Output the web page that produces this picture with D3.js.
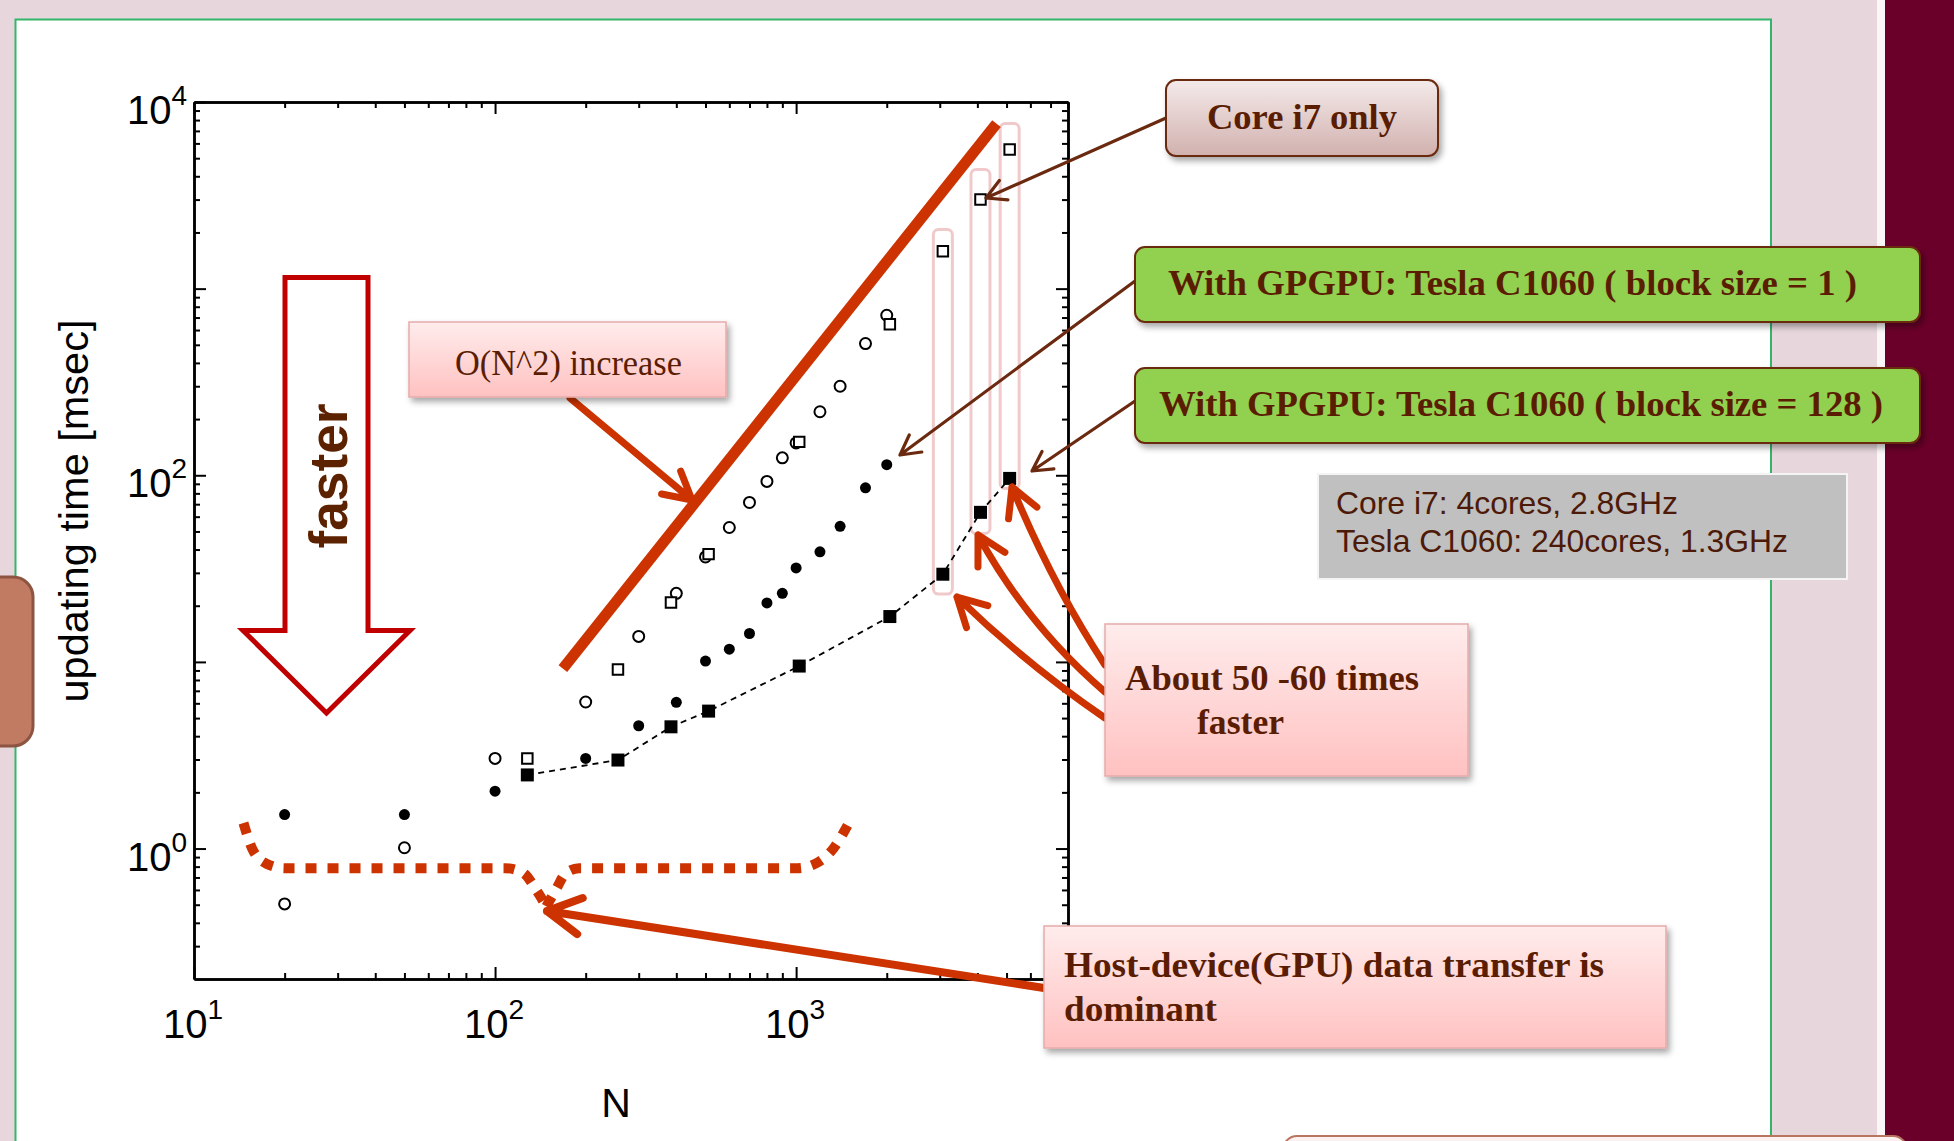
<!DOCTYPE html>
<html lang="en">
<head>
<meta charset="UTF-8">
<title>updating time vs N : Core i7 vs Tesla C1060</title>
<script src="https://d3js.org/d3.v7.min.js"></script>
<style>
  body { margin: 0; background: #e7d7dd; overflow: hidden; }
  svg { display: block; }
  .axis path, .axis line { stroke: #000; }
  .axis path { stroke-width: 2.5; }
  .axis line { stroke-width: 2; }
  .num { font-family: "Liberation Sans", Arial, sans-serif; fill: #000; }
  .note { font-family: "Liberation Serif", "Times New Roman", serif; fill: #5a1d02; }
</style>
</head>
<body>
<svg width="1954" height="1141"></svg>

<script>
    // ---- data ----
    const nSweep = [20, 50, 100, 200, 300, 400, 500, 600, 700, 800, 900, 1000, 1200, 1400, 1700, 2000];
    const tOpenCircle = [0.505, 1.01, 3.04, 6.1, 13.7, 23.3, 36.5, 52.5, 71.5, 92.7, 124, 149, 219, 300, 508, 720];
    const tBlock1 = [1.52, 1.52, 2.03, 3.04, 4.55, 6.07, 10.1, 11.7, 14.2, 20.7, 23.3, 31.9, 38.9, 53.3, 85.7, 114];

    const nPow = [128, 256, 384, 512, 1024, 2048, 3072, 4096, 5120];
    const tCorei7 = [3.04, 9.1, 20.8, 37.8, 151, 644, 1586, 3000, 5560];
    const tBlock128 = [2.48, 2.98, 4.49, 5.45, 9.5, 17.5, 29.5, 63.3, 96.2];

    const xMajor = [10, 100, 1000];
    const xLabels = ["1", "2", "3"];
    const yMajor = [1, 10, 100, 1000, 10000];
    const yLabelled = [1, 100, 10000];
    const yLabels = ["0", "2", "4"];

    // O(N^2) guide line and the columns picked out in pink (data units)
    const n2Line = [[168, 9.2], [4630, 7660]];
    const columns = [[3072, 2073, 23.1], [4096, 4347, 48.8], [5120, 7660, 84.9]];
    // dashed brace below the small-N points (data units)
    const braceLeft = [[14.6, 1.37], [15.6, 1.0], [17.4, 0.83], [20, 0.785], [108, 0.785], [124, 0.74], [137, 0.6], [148, 0.49]];
    const braceRight = [[148, 0.49], [159, 0.6], [172, 0.74], [190, 0.785], [1010, 0.785], [1160, 0.83], [1330, 1.0], [1496, 1.37]];

    const svg = d3.select("svg");

    const x = d3.scaleLog().domain([10, 8000]).range([194, 1068]);
    const y = d3.scaleLog().domain([0.2, 10000]).range([979, 102]);

    // ---- defs ----
    const defs = svg.append("defs");
    const sh = defs.append("filter").attr("id", "shadow").attr("x", "-10%").attr("y", "-10%").attr("width", "130%").attr("height", "140%");
    sh.append("feDropShadow").attr("dx", 3).attr("dy", 4).attr("stdDeviation", 3)
        .attr("flood-color", "#000").attr("flood-opacity", 0.35);
    function grad(id, c1, c2) {
        const g = defs.append("linearGradient").attr("id", id).attr("x1", 0).attr("y1", 0).attr("x2", 0).attr("y2", 1);
        g.append("stop").attr("offset", "0%").attr("stop-color", c1);
        g.append("stop").attr("offset", "100%").attr("stop-color", c2);
    }
    grad("pinkGrad", "#ffecec", "#ffc1c1");
    grad("coreGrad", "#f4eaea", "#d1b1ae");

    // ---- slide background ----
    svg.append("rect").attr("x", 0).attr("y", 0).attr("width", 1954).attr("height", 1141).attr("fill", "#e7d7dd");
    svg.append("rect").attr("x", 15.5).attr("y", 19.5).attr("width", 1755.5).attr("height", 1200)
        .attr("fill", "#fff").attr("stroke", "#33b56b").attr("stroke-width", 2);
    svg.append("rect").attr("x", 1877).attr("y", 0).attr("width", 8).attr("height", 1141).attr("fill", "#fbf7f8");
    svg.append("rect").attr("x", 1885).attr("y", 0).attr("width", 69).attr("height", 1141).attr("fill", "#6a0029");
    svg.append("rect").attr("x", -20).attr("y", 577).attr("width", 53).attr("height", 169).attr("rx", 20)
        .attr("fill", "#c27b63").attr("stroke", "#8d5442").attr("stroke-width", 3);
    svg.append("rect").attr("x", 1283).attr("y", 1136).attr("width", 624).attr("height", 40).attr("rx", 14)
        .attr("fill", "#fdf0f0").attr("stroke", "#b87560").attr("stroke-width", 2);

    // ---- axes (ticks inside on all four sides) ----
    const xMinor = x.ticks().filter(d => !xMajor.includes(d));
    const yMinor = y.ticks().filter(d => !yMajor.includes(d) && d > 0.2);

    function axis(fn, scale, values, size, tr) {
        svg.append("g").attr("class", "axis").attr("transform", tr)
            .call(fn(scale).tickValues(values).tickSizeInner(size).tickSizeOuter(0).tickFormat(() => ""));
    }
    [[d3.axisBottom, x, "translate(0,979)"], [d3.axisTop, x, "translate(0,102)"]].forEach(([fn, s, tr]) => {
        axis(fn, s, xMajor, -12, tr);
        axis(fn, s, xMinor, -6, tr);
    });
    [[d3.axisLeft, y, "translate(194,0)"], [d3.axisRight, y, "translate(1068,0)"]].forEach(([fn, s, tr]) => {
        axis(fn, s, yMajor, -12, tr);
        axis(fn, s, yMinor, -6, tr);
    });

    // tick labels 10^n
    const xl = svg.append("g").selectAll("text").data(xMajor).join("text")
        .attr("class", "num").attr("x", d => x(d) - 31).attr("y", 1038).attr("font-size", 40);
    xl.append("tspan").text("10");
    xl.append("tspan").attr("dy", -19).attr("font-size", 28).text((d, i) => xLabels[i]);

    const yl = svg.append("g").selectAll("text").data(yLabelled).join("text")
        .attr("class", "num").attr("x", 187).attr("y", d => y(d) + 22).attr("font-size", 40)
        .attr("text-anchor", "end");
    yl.append("tspan").text("10");
    yl.append("tspan").attr("dy", -19).attr("font-size", 28).text((d, i) => yLabels[i]);

    svg.append("text").attr("class", "num").attr("font-size", 41)
        .attr("transform", "translate(88,511) rotate(-90)").attr("text-anchor", "middle")
        .attr("textLength", 383).attr("lengthAdjust", "spacingAndGlyphs")
        .text("updating time [msec]");
    svg.append("text").attr("class", "num").attr("font-size", 41)
        .attr("x", 616).attr("y", 1117).attr("text-anchor", "middle").text("N");

    // ---- "faster" big open arrow ----
    const fa = d3.path();
    fa.moveTo(285, 277.5); fa.lineTo(368, 277.5); fa.lineTo(368, 630.5); fa.lineTo(410, 630.5);
    fa.lineTo(326.5, 713); fa.lineTo(243, 630.5); fa.lineTo(285, 630.5); fa.closePath();
    svg.append("path").attr("d", fa.toString()).attr("fill", "#fff")
        .attr("stroke", "#c00000").attr("stroke-width", 5).attr("stroke-linejoin", "miter");
    svg.append("text").attr("font-family", "'Liberation Sans', Arial, sans-serif").attr("font-weight", "bold")
        .attr("font-size", 53).attr("fill", "#5c2200")
        .attr("transform", "translate(347,476) rotate(-90)").attr("text-anchor", "middle")
        .attr("textLength", 145).attr("lengthAdjust", "spacingAndGlyphs").text("faster");

    // ---- pink column highlights ----
    svg.append("g").selectAll("rect").data(columns).join("rect")
        .attr("x", d => x(d[0]) - 9.5).attr("width", 19)
        .attr("y", d => y(d[1])).attr("height", d => y(d[2]) - y(d[1]))
        .attr("rx", 5).attr("fill", "none").attr("stroke", "#f0caca").attr("stroke-width", 3);

    // ---- O(N^2) line ----
    const lineXY = d3.line().x(d => x(d[0])).y(d => y(d[1]));
    svg.append("path").attr("d", lineXY(n2Line)).attr("fill", "none")
        .attr("stroke", "#cc3300").attr("stroke-width", 11);

    // ---- dashed brace ----
    const braceLine = d3.line().x(d => x(d[0])).y(d => y(d[1])).curve(d3.curveMonotoneX);
    [braceLeft, braceRight].forEach(b => {
        svg.append("path").attr("d", braceLine(b)).attr("fill", "none")
            .attr("stroke", "#cc3300").attr("stroke-width", 10).attr("stroke-dasharray", "11 11");
    });

    // ---- data series ----
    const sq128 = nPow.map((n, i) => [n, tBlock128[i]]);
    svg.append("path").attr("d", lineXY(sq128)).attr("fill", "none")
        .attr("stroke", "#000").attr("stroke-width", 1.8).attr("stroke-dasharray", "6 5");

    const pts = svg.append("g");
    pts.selectAll("circle.open").data(nSweep.map((n, i) => [n, tOpenCircle[i]])).join("circle")
        .attr("class", "open").attr("cx", d => x(d[0])).attr("cy", d => y(d[1])).attr("r", 5.5)
        .attr("fill", "#fff").attr("stroke", "#000").attr("stroke-width", 2);
    pts.selectAll("circle.fill").data(nSweep.map((n, i) => [n, tBlock1[i]])).join("circle")
        .attr("class", "fill").attr("cx", d => x(d[0])).attr("cy", d => y(d[1])).attr("r", 5.5)
        .attr("fill", "#000");
    pts.selectAll("path.openSq").data(nPow.map((n, i) => [n, tCorei7[i]])).join("path")
        .attr("class", "openSq").attr("d", d3.symbol(d3.symbolSquare, 110))
        .attr("transform", d => `translate(${x(d[0])},${y(d[1])})`)
        .attr("fill", "#fff").attr("stroke", "#000").attr("stroke-width", 2);
    pts.selectAll("path.fillSq").data(sq128).join("path")
        .attr("class", "fillSq").attr("d", d3.symbol(d3.symbolSquare, 169))
        .attr("transform", d => `translate(${x(d[0])},${y(d[1])})`)
        .attr("fill", "#000");

    // ---- callout arrows (pixel positions on the slide) ----
    const red = "#cc3300", brown = "#6b2a10";
    const arrows = [
        {from: [570, 398], to: [692, 500], color: red, width: 7, head: 31},
        {from: [1044, 988], to: [547, 911], color: red, width: 8, head: 38},
        {from: [1105, 718], to: [957, 597], ctrl: [1026, 664], color: red, width: 7, head: 32},
        {from: [1105, 692], to: [978, 535], ctrl: [1027, 625], color: red, width: 7, head: 32},
        {from: [1105, 665], to: [1012, 487], ctrl: [1052, 584], color: red, width: 7, head: 32},
        {from: [1166, 118], to: [986, 198], color: brown, width: 3.2, head: 22},
        {from: [1135, 281], to: [900, 455], color: brown, width: 3.2, head: 22},
        {from: [1135, 401], to: [1032, 471], color: brown, width: 3.2, head: 22}
    ];
    arrows.forEach(a => {
        const [x1, y1] = a.from, [x2, y2] = a.to;
        const c = a.ctrl || [(x1 + x2) / 2, (y1 + y2) / 2];
        const p = d3.path();
        p.moveTo(x1, y1);
        p.quadraticCurveTo(c[0], c[1], x2, y2);
        const ang = Math.atan2(y2 - c[1], x2 - c[0]), s = 0.5;
        p.moveTo(x2 - a.head * Math.cos(ang - s), y2 - a.head * Math.sin(ang - s));
        p.lineTo(x2, y2);
        p.lineTo(x2 - a.head * Math.cos(ang + s), y2 - a.head * Math.sin(ang + s));
        svg.append("path").attr("d", p.toString()).attr("fill", "none")
            .attr("stroke", a.color).attr("stroke-width", a.width)
            .attr("stroke-linecap", "round").attr("stroke-linejoin", "round");
    });

    // ---- callout boxes ----
    function box(b) {
        svg.append("rect").attr("x", b.x).attr("y", b.y).attr("width", b.w).attr("height", b.h)
            .attr("rx", b.rx || 0).attr("fill", b.fill).attr("stroke", b.stroke)
            .attr("stroke-width", b.sw || 1.5).attr("filter", b.shadow === false ? null : "url(#shadow)");
        b.lines.forEach(l => {
            svg.append("text").attr("class", b.cls || "note").attr("x", l[0]).attr("y", l[1])
                .attr("font-size", b.size).attr("font-weight", b.weight || "normal")
                .attr("textLength", l[3]).attr("lengthAdjust", "spacingAndGlyphs")
                .style("fill", b.color || null).text(l[2]);
        });
    }
    box({x: 409, y: 322, w: 317, h: 75, fill: "url(#pinkGrad)", stroke: "#e6aaaa", size: 35,
         lines: [[455, 375, "O(N^2) increase", 227]]});
    box({x: 1166, y: 80, w: 272, h: 76, rx: 10, fill: "url(#coreGrad)", stroke: brown, sw: 2, size: 36, weight: "bold",
         lines: [[1207, 129, "Core i7 only", 190]]});
    box({x: 1135, y: 247, w: 785, h: 75, rx: 10, fill: "#92d050", stroke: brown, sw: 2, size: 35, weight: "bold",
         lines: [[1168, 295, "With GPGPU: Tesla C1060 ( block size = 1 )", 689]]});
    box({x: 1135, y: 368, w: 785, h: 75, rx: 10, fill: "#92d050", stroke: brown, sw: 2, size: 35, weight: "bold",
         lines: [[1159, 416, "With GPGPU: Tesla C1060 ( block size = 128 )", 724]]});
    box({x: 1318, y: 474, w: 529, h: 105, fill: "#c0c0c0", stroke: "#f4f4f4", sw: 2, shadow: false, size: 32,
         cls: "num", color: "#4d1a08",
         lines: [[1336, 514, "Core i7: 4cores, 2.8GHz", 342], [1336, 552, "Tesla C1060: 240cores, 1.3GHz", 452]]});
    box({x: 1105, y: 624, w: 363, h: 152, fill: "url(#pinkGrad)", stroke: "#e6aaaa", size: 36, weight: "bold",
         lines: [[1125, 690, "About 50 -60 times", 294], [1197, 734, "faster", 87]]});
    box({x: 1044, y: 926, w: 622, h: 122, fill: "url(#pinkGrad)", stroke: "#e6aaaa", size: 36, weight: "bold",
         lines: [[1064, 977, "Host-device(GPU) data transfer is", 540], [1064, 1021, "dominant", 153]]});
</script>
</body>
</html>
